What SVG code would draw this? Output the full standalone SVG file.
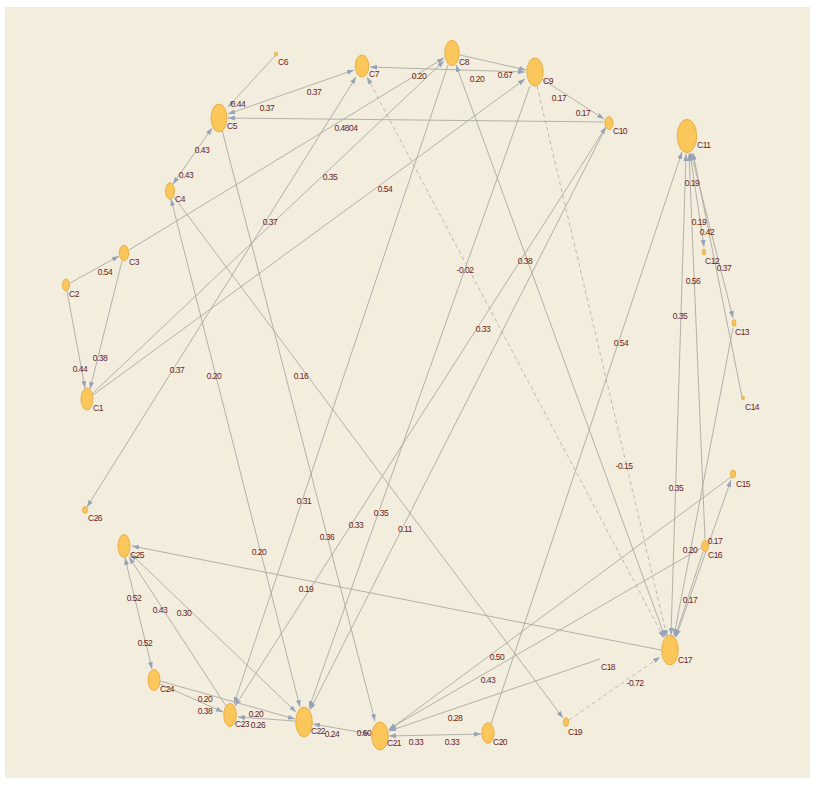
<svg xmlns="http://www.w3.org/2000/svg" width="816" height="786" viewBox="0 0 816 786">
<defs>
<style>
.e{stroke:#a9a9a4;stroke-width:0.9;fill:none;marker-end:url(#ah)}
.b{marker-start:url(#ah)}
.d{stroke:#b4b4ae;stroke-dasharray:4 3}
.nd{fill:#fbc65a;stroke:#e2a53a;stroke-width:0.8}
.t{font-family:"Liberation Sans",Arial,sans-serif;font-size:8.5px;letter-spacing:-0.5px;fill:#6a1e1e}
.l{font-family:"Liberation Sans",Arial,sans-serif;font-size:8.5px;letter-spacing:-0.5px;fill:#6a1e1e;text-anchor:middle}
</style>
<marker id="ah" viewBox="0 0 7 5" refX="7" refY="2.5" markerWidth="7" markerHeight="5" markerUnits="userSpaceOnUse" orient="auto-start-reverse">
<path d="M0,0 L7,2.5 L0,5 z" fill="#96a3b8"/>
</marker>
</defs>
<rect x="0" y="0" width="816" height="786" fill="#ffffff"/>
<rect x="5" y="7" width="805" height="771" fill="#f3eddd"/>
<g id="edges">
<line class="e" x1="275" y1="56" x2="228" y2="107"/>
<line class="e b" x1="228" y1="114" x2="354" y2="70"/>
<line class="e b" x1="370" y1="67" x2="525" y2="72"/>
<line class="e" x1="460" y1="55" x2="526" y2="70"/>
<line class="e" x1="542" y1="79" x2="604" y2="119"/>
<line class="e" x1="604" y1="122" x2="228" y2="118"/>
<line class="e" x1="129" y1="250" x2="444" y2="58"/>
<line class="e" x1="92" y1="394" x2="444" y2="61"/>
<line class="e" x1="93" y1="395" x2="525" y2="79"/>
<line class="e b" x1="356" y1="77" x2="87" y2="507"/>
<line class="e" x1="70" y1="283" x2="119" y2="256"/>
<line class="e" x1="122" y1="261" x2="90" y2="389"/>
<line class="e" x1="67" y1="291" x2="85" y2="388"/>
<line class="e b" x1="212" y1="128" x2="173" y2="184"/>
<line class="e b" x1="171" y1="199" x2="300" y2="707"/>
<line class="e" x1="174" y1="197" x2="563" y2="718"/>
<line class="e" x1="222" y1="130" x2="375" y2="721"/>
<line class="e b d" x1="367" y1="77" x2="664" y2="638"/>
<line class="e d" x1="537" y1="86" x2="667" y2="637"/>
<line class="e b" x1="456" y1="65" x2="665" y2="637"/>
<line class="e b" x1="606" y1="127" x2="235" y2="706"/>
<line class="e" x1="606" y1="127" x2="310" y2="710"/>
<line class="e" x1="530" y1="86" x2="309" y2="708"/>
<line class="e" x1="448" y1="65" x2="234" y2="704"/>
<line class="e" x1="491" y1="724" x2="682" y2="152"/>
<line class="e b" x1="690" y1="153" x2="704" y2="247"/>
<line class="e b" x1="691" y1="153" x2="733" y2="318"/>
<line class="e" x1="742" y1="397" x2="693" y2="153"/>
<line class="e b" x1="686" y1="154" x2="671" y2="635"/>
<line class="e" x1="705" y1="539" x2="689" y2="154"/>
<line class="e" x1="733" y1="328" x2="674" y2="636"/>
<line class="e b" x1="731" y1="480" x2="676" y2="637"/>
<line class="e" x1="703" y1="552" x2="675" y2="637"/>
<line class="e" x1="701" y1="548" x2="389" y2="729"/>
<line class="e" x1="731" y1="477" x2="389" y2="730"/>
<line class="e" x1="600" y1="659" x2="389" y2="731"/>
<line class="e d" x1="569" y1="720" x2="660" y2="657"/>
<line class="e" x1="661" y1="650" x2="132" y2="546"/>
<line class="e b" x1="389" y1="736" x2="481" y2="734"/>
<line class="e b" x1="370" y1="734" x2="313" y2="724"/>
<line class="e" x1="295" y1="721" x2="238" y2="717"/>
<line class="e" x1="160" y1="684" x2="223" y2="712"/>
<line class="e" x1="160" y1="681" x2="295" y2="719"/>
<line class="e b" x1="125" y1="558" x2="152" y2="669"/>
<line class="e" x1="226" y1="706" x2="129" y2="557"/>
<line class="e b" x1="131" y1="554" x2="296" y2="712"/>
</g>
<g id="edge-labels">
<text class="l" x="238" y="107">0.44</text>
<text class="l" x="314" y="95">0.37</text>
<text class="l" x="267" y="111">0.37</text>
<text class="l" x="419" y="79">0.20</text>
<text class="l" x="477" y="82">0.20</text>
<text class="l" x="505" y="78">0.67</text>
<text class="l" x="559" y="101">0.17</text>
<text class="l" x="583" y="116">0.17</text>
<text class="l" x="346" y="131">0.4804</text>
<text class="l" x="202" y="153">0.43</text>
<text class="l" x="186" y="178">0.43</text>
<text class="l" x="330" y="180">0.35</text>
<text class="l" x="385" y="192">0.54</text>
<text class="l" x="270" y="225">0.37</text>
<text class="l" x="105" y="275">0.54</text>
<text class="l" x="100" y="361">0.38</text>
<text class="l" x="80" y="372">0.44</text>
<text class="l" x="177" y="373">0.37</text>
<text class="l" x="214" y="379">0.20</text>
<text class="l" x="301" y="379">0.16</text>
<text class="l" x="465" y="273">-0.02</text>
<text class="l" x="525" y="264">0.38</text>
<text class="l" x="483" y="332">0.33</text>
<text class="l" x="621" y="346">0.54</text>
<text class="l" x="624" y="469">-0.15</text>
<text class="l" x="692" y="186">0.19</text>
<text class="l" x="699" y="225">0.19</text>
<text class="l" x="707" y="235">0.42</text>
<text class="l" x="724" y="271">0.37</text>
<text class="l" x="693" y="284">0.56</text>
<text class="l" x="680" y="319">0.35</text>
<text class="l" x="676" y="491">0.35</text>
<text class="l" x="690" y="553">0.20</text>
<text class="l" x="690" y="603">0.17</text>
<text class="l" x="715" y="544">0.17</text>
<text class="l" x="304" y="504">0.31</text>
<text class="l" x="356" y="528">0.33</text>
<text class="l" x="381" y="516">0.35</text>
<text class="l" x="405" y="532">0.11</text>
<text class="l" x="327" y="540">0.36</text>
<text class="l" x="259" y="555">0.20</text>
<text class="l" x="306" y="592">0.19</text>
<text class="l" x="134" y="601">0.52</text>
<text class="l" x="160" y="613">0.43</text>
<text class="l" x="184" y="616">0.30</text>
<text class="l" x="145" y="646">0.52</text>
<text class="l" x="497" y="660">0.50</text>
<text class="l" x="488" y="683">0.43</text>
<text class="l" x="635" y="686">-0.72</text>
<text class="l" x="455" y="721">0.28</text>
<text class="l" x="205" y="702">0.20</text>
<text class="l" x="205" y="714">0.38</text>
<text class="l" x="256" y="717">0.20</text>
<text class="l" x="258" y="728">0.26</text>
<text class="l" x="332" y="737">0.24</text>
<text class="l" x="364" y="736">0.60</text>
<text class="l" x="416" y="745">0.33</text>
<text class="l" x="452" y="745">0.33</text>
</g>
<g id="C1"><ellipse class="nd" cx="87" cy="399" rx="6" ry="11"/><text class="t" x="93" y="411">C1</text></g>
<g id="C2"><ellipse class="nd" cx="66" cy="285" rx="3.5" ry="6"/><text class="t" x="69" y="297">C2</text></g>
<g id="C3"><ellipse class="nd" cx="124" cy="253" rx="4.7" ry="7.8"/><text class="t" x="129" y="265">C3</text></g>
<g id="C4"><ellipse class="nd" cx="170" cy="191" rx="4.5" ry="8.3"/><text class="t" x="175" y="202">C4</text></g>
<g id="C5"><ellipse class="nd" cx="219" cy="118" rx="8" ry="14"/><text class="t" x="227" y="129">C5</text></g>
<g id="C6"><ellipse class="nd" cx="276" cy="54" rx="1.6" ry="2"/><text class="t" x="278" y="65">C6</text></g>
<g id="C7"><ellipse class="nd" cx="362" cy="66" rx="6.8" ry="11"/><text class="t" x="369" y="77">C7</text></g>
<g id="C8"><ellipse class="nd" cx="452" cy="53" rx="7.2" ry="12.7"/><text class="t" x="459" y="65">C8</text></g>
<g id="C9"><ellipse class="nd" cx="535" cy="72" rx="8.2" ry="14"/><text class="t" x="543" y="84">C9</text></g>
<g id="C10"><ellipse class="nd" cx="609" cy="123" rx="4" ry="6.5"/><text class="t" x="613" y="134">C10</text></g>
<g id="C11"><ellipse class="nd" cx="687" cy="136" rx="9.7" ry="16.7"/><text class="t" x="697" y="148">C11</text></g>
<g id="C12"><ellipse class="nd" cx="704" cy="252" rx="1.6" ry="3"/><text class="t" x="705" y="264">C12</text></g>
<g id="C13"><ellipse class="nd" cx="734" cy="323" rx="2" ry="3.4"/><text class="t" x="735" y="335">C13</text></g>
<g id="C14"><ellipse class="nd" cx="743" cy="398" rx="1.4" ry="1.8"/><text class="t" x="745" y="410">C14</text></g>
<g id="C15"><ellipse class="nd" cx="733" cy="474" rx="2.5" ry="4"/><text class="t" x="736" y="487">C15</text></g>
<g id="C16"><ellipse class="nd" cx="705" cy="546" rx="3.4" ry="5.8"/><text class="t" x="708" y="558">C16</text></g>
<g id="C17"><ellipse class="nd" cx="670" cy="650" rx="8.3" ry="15"/><text class="t" x="678" y="663">C17</text></g>
<g id="C18"><text class="t" x="601" y="670">C18</text></g>
<g id="C19"><ellipse class="nd" cx="566" cy="722" rx="2.5" ry="4.2"/><text class="t" x="568" y="735">C19</text></g>
<g id="C20"><ellipse class="nd" cx="488" cy="733" rx="6.2" ry="10.3"/><text class="t" x="493" y="745">C20</text></g>
<g id="C21"><ellipse class="nd" cx="380" cy="736" rx="8.3" ry="14"/><text class="t" x="387" y="746">C21</text></g>
<g id="C22"><ellipse class="nd" cx="304" cy="722" rx="8.3" ry="15"/><text class="t" x="311" y="734">C22</text></g>
<g id="C23"><ellipse class="nd" cx="230" cy="715" rx="6.3" ry="11.5"/><text class="t" x="235" y="727">C23</text></g>
<g id="C24"><ellipse class="nd" cx="154" cy="680" rx="6" ry="10.5"/><text class="t" x="160" y="692">C24</text></g>
<g id="C25"><ellipse class="nd" cx="124" cy="546" rx="6" ry="11.5"/><text class="t" x="130" y="558">C25</text></g>
<g id="C26"><ellipse class="nd" cx="85" cy="510" rx="2.4" ry="3.4"/><text class="t" x="88" y="521">C26</text></g>
</svg>
